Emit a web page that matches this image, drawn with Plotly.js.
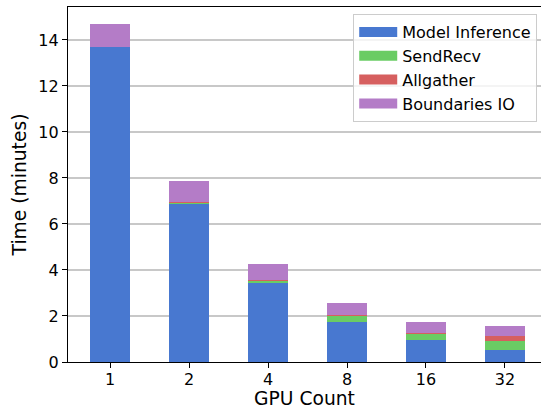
<!DOCTYPE html>
<html>
<head>
<meta charset="utf-8">
<script src="https://cdn.plot.ly/plotly-3.0.1.min.js"></script>
<style>html,body{margin:0;padding:0;background:#fff;}#chart{width:541px;height:409px;}</style>
</head>
<body>
<div id="chart"></div>
<script>
const gpuCounts = ['1', '2', '4', '8', '16', '32'];
const modelInference = [13.67, 6.88, 3.43, 1.74, 0.97, 0.52];
const sendRecv = [0.0, 0.03, 0.09, 0.27, 0.26, 0.39];
const allgather = [0.0, 0.05, 0.04, 0.03, 0.04, 0.22];
const boundariesIO = [1.03, 0.91, 0.70, 0.53, 0.47, 0.44];
const seriesNames = ['Model Inference', 'SendRecv', 'Allgather', 'Boundaries IO'];
const seriesColors = ['#4878d0', '#6acc64', '#d65f5f', '#b47cc7'];
const seriesValues = [modelInference, sendRecv, allgather, boundariesIO];

const barTraces = seriesValues.map((vals, i) => ({
  type: 'bar',
  x: gpuCounts,
  y: vals,
  name: seriesNames[i],
  width: 0.5,
  marker: {color: seriesColors[i], line: {width: 0}},
  showlegend: false,
  hoverinfo: 'skip'
}));
// legend-only entries drawn as wide swatches
const legendTraces = seriesNames.map((n, i) => ({
  type: 'scatter', mode: 'lines',
  x: [null], y: [null],
  name: n,
  line: {color: seriesColors[i], width: 11},
  showlegend: true, hoverinfo: 'skip'
}));

const font = {family: 'DejaVu Sans, sans-serif', color: '#000'};
const layout = {
  width: 541, height: 409,
  margin: {l: 68, r: 0, t: 7, b: 47},
  barmode: 'stack',
  paper_bgcolor: '#fff', plot_bgcolor: '#fff',
  font: Object.assign({size: 16}, font),
  showlegend: true,
  legend: {
    x: 0.992, y: 0.98, xanchor: 'right', yanchor: 'top',
    bgcolor: 'rgba(255,255,255,0.8)', bordercolor: '#cccccc', borderwidth: 1,
    font: Object.assign({size: 16}, font),
    traceorder: 'normal', tracegroupgap: 1.5, itemwidth: 38
  },
  xaxis: {
    type: 'category',
    range: [-0.532, 5.456],
    showgrid: false, zeroline: false,
    showline: true, linecolor: '#000', linewidth: 1.2, mirror: true,
    ticks: 'outside', ticklen: 5, tickwidth: 1, tickcolor: '#000',
    ticklabelstandoff: -2,
    tickfont: Object.assign({size: 16}, font),
    title: {text: 'GPU Count', font: Object.assign({size: 18.7}, font), standoff: 4}
  },
  yaxis: {
    range: [0, 15.43],
    tickvals: [0, 2, 4, 6, 8, 10, 12, 14],
    showgrid: true, gridcolor: '#c8c8c8', gridwidth: 1.3,
    zeroline: false,
    showline: true, linecolor: '#000', linewidth: 1.2, mirror: false,
    ticks: 'outside', ticklen: 5, tickwidth: 1, tickcolor: '#000',
    tickfont: Object.assign({size: 16}, font),
    title: {text: 'Time (minutes)', font: Object.assign({size: 18.7}, font), standoff: 6}
  }
};

Plotly.newPlot('chart', barTraces.concat(legendTraces), layout, {displayModeBar: false, staticPlot: true});
</script>
</body>
</html>
